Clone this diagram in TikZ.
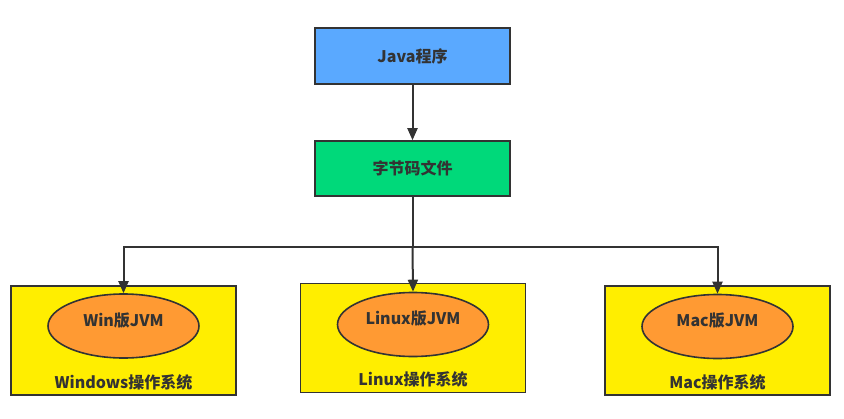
\documentclass[tikz,border=0pt]{standalone}
\usepackage{fontspec}
\setmainfont{Noto Sans CJK SC}
\usepackage{xcolor}
\usetikzlibrary{positioning,arrows.meta,shapes.geometric}

\definecolor{javablue}{HTML}{5AA9FF}
\definecolor{codegreen}{HTML}{00D97A}
\definecolor{osyellow}{HTML}{FFEE00}
\definecolor{jvmorange}{HTML}{FF9A33}
\definecolor{edgegray}{HTML}{333333}

\tikzset{
  box/.style={draw=edgegray,line width=1.6pt,rectangle,inner sep=0pt},
  osbox/.style={box,fill=osyellow,minimum width=225,minimum height=109},
  jvm/.style={draw=edgegray,line width=1.6pt,ellipse,fill=jvmorange,inner sep=0pt,
    minimum width=151,minimum height=64,text height=12pt,text depth=12pt},
  txt/.style={text=edgegray,font=\fontsize{16}{18}\selectfont\bfseries},
  link/.style={draw=edgegray,line width=2pt,-{Triangle[length=12pt,width=10pt]}}
}

\begin{document}
\begin{tikzpicture}[x=1pt,y=-1pt]
  \useasboundingbox (0,0) rectangle (844,418);
  \node[box,fill=javablue,minimum width=195,minimum height=56,txt] (java) at (412.5,56) {Java程序};
  \node[box,fill=codegreen,minimum width=195,minimum height=55,txt] (bytecode) at (412.5,168.5) {字节码文件};

  \node[osbox] (winos) at (123.5,340.5) {};
  \node[osbox] (linuxos) at (413,338) {};
  \node[osbox] (macos) at (717.5,340.5) {};

  \node[jvm,txt] (winjvm) at (123.5,326) {Win版JVM};
  \node[jvm,txt] (linuxjvm) at (413,324.5) {Linux版JVM};
  \node[jvm,txt] (macjvm) at (717.5,326.5) {Mac版JVM};

  \node[txt] (winlabel) at (123.5,382) {Windows操作系统};
  \node[txt] (linuxlabel) at (413,379.5) {Linux操作系统};
  \node[txt] (maclabel) at (717.5,382) {Mac操作系统};

  \coordinate (split) at (412.5,247);
  \draw[link] (java) -- (bytecode);
  \draw[draw=edgegray,line width=2pt] (bytecode.south) -- (split);
  \draw[link] (split) -| (winjvm.north);
  \draw[link] (split) -- (linuxjvm.north);
  \draw[link] (split) -| (macjvm.north);
\end{tikzpicture}
\end{document}
